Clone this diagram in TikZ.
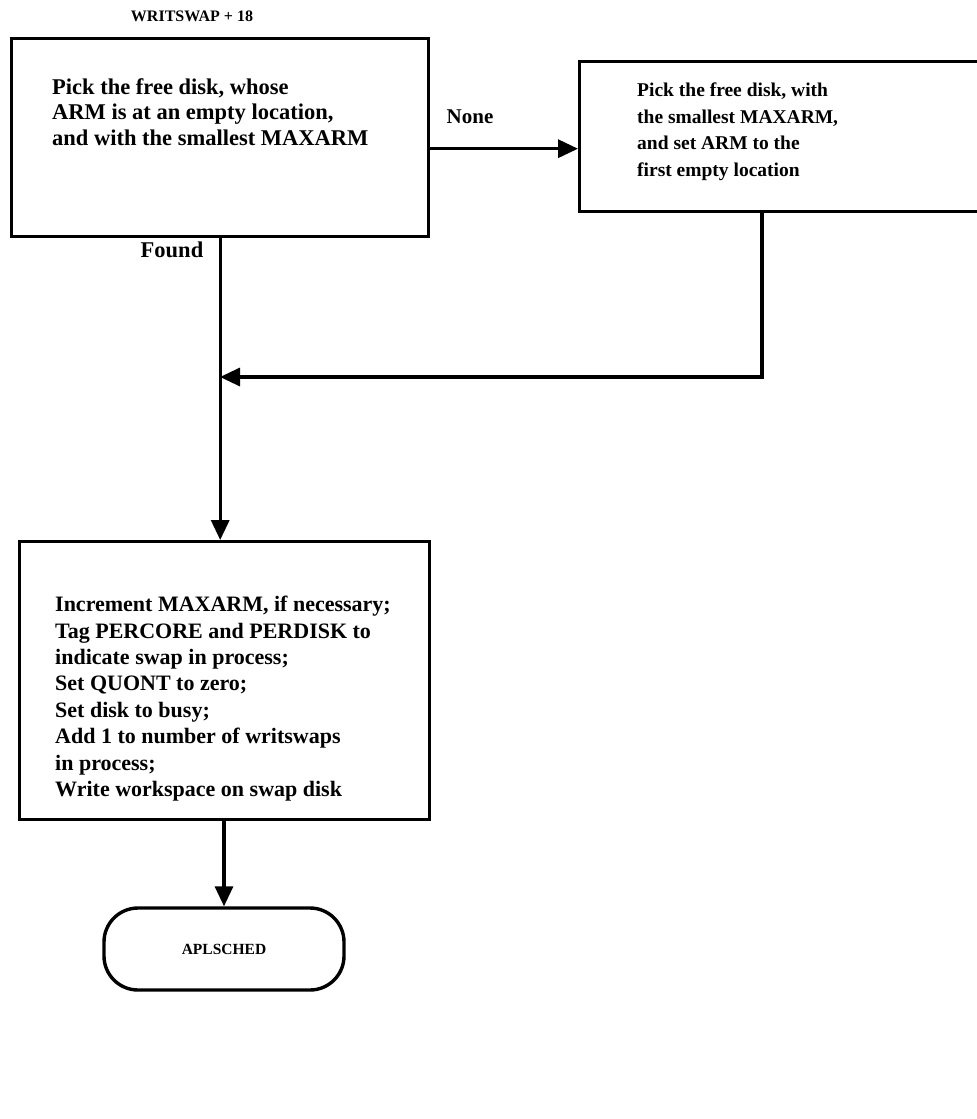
\documentclass[tikz,border=0pt]{standalone}
\usepackage{fontspec}
\setmainfont{Liberation Serif}
\usetikzlibrary{arrows.meta}
\begin{document}
\begin{tikzpicture}[x=1pt,y=-1pt,
  boxnode/.style={draw, line width=3.4pt, inner sep=0pt, anchor=north west},
  txt/.style={align=left, inner sep=0pt, anchor=north west},
  lbl/.style={inner sep=0pt},
  arr/.style={line width=3.4pt, -{Triangle[length=20pt,width=18pt]}}]
\useasboundingbox (0,0) rectangle (977,1119);

\node[lbl, font=\bfseries\fontsize{16}{20}\selectfont] (title) at (192,16) {WRITSWAP + 18};

\node[boxnode, minimum width=417pt, minimum height=198pt] (b1) at (10,37) {};
\node[txt, font=\bfseries\fontsize{22.5}{25.5}\selectfont] (t1) at (52,78) {Pick the free disk, whose\\ARM is at an empty location,\\and with the smallest MAXARM};

\node[boxnode, minimum width=420pt, minimum height=150pt] (b2) at (578,60) {};
\node[txt, font=\bfseries\fontsize{19.5}{26.5}\selectfont] (t2) at (637,83) {Pick the free disk, with\\the smallest MAXARM,\\and set ARM to the\\first empty location};

\node[boxnode, minimum width=410pt, minimum height=278pt] (b3) at (18,540) {};
\node[txt, font=\bfseries\fontsize{22}{26.4}\selectfont] (t3) at (55,596) {Increment MAXARM, if necessary;\\Tag PERCORE and PERDISK to\\indicate swap in process;\\Set QUONT to zero;\\Set disk to busy;\\Add 1 to number of writswaps\\in process;\\Write workspace on swap disk};

\node[draw, line width=3.4pt, rounded corners=34pt, minimum width=240pt, minimum height=82pt, inner sep=0pt, font=\bfseries\fontsize{15.5}{20}\selectfont] (term) at (224,949) {APLSCHED};

\node[lbl, font=\bfseries\fontsize{21}{25}\selectfont] (none) at (470,117) {None};
\node[lbl, font=\bfseries\fontsize{22.5}{25}\selectfont] (found) at (172,250) {Found};

\draw[arr] ([yshift=-11pt]b1.east) -- ([yshift=-11pt]b1.east -| b2.west);
\draw[arr] (b1.south) -- (b1.south |- b3.north);
\coordinate (b2d) at (762,210);
\coordinate (m) at (220,377);
\draw[arr] (b2d) |- (m);
\draw[arr] (term.north |- b3.south) -- (term.north);
\end{tikzpicture}
\end{document}
